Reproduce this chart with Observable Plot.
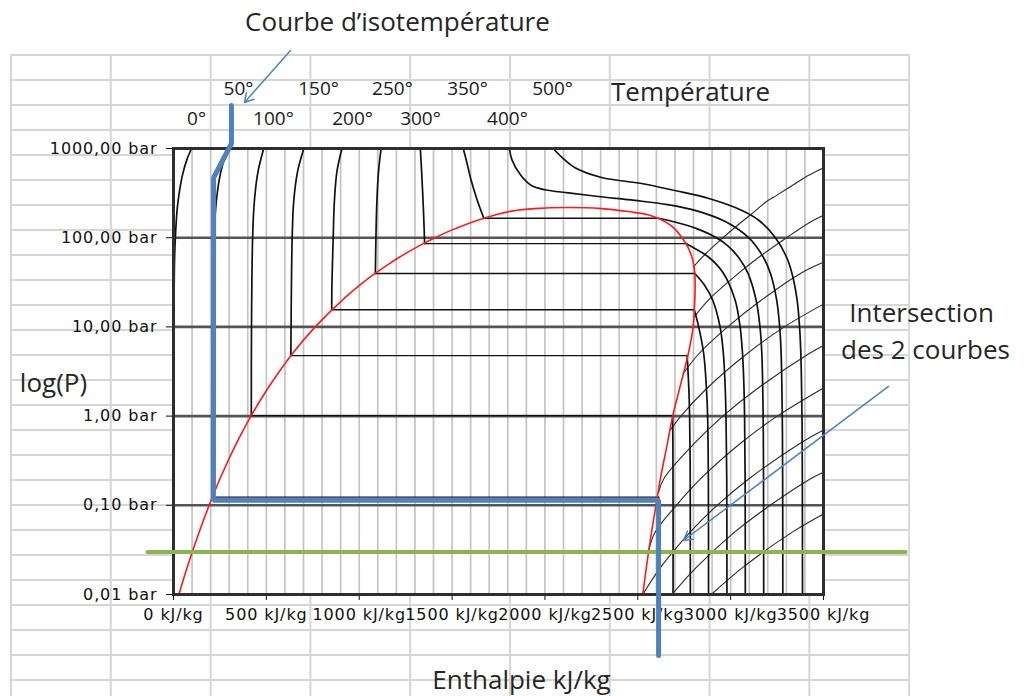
<!DOCTYPE html>
<html><head><meta charset="utf-8">
<script src="https://cdn.jsdelivr.net/npm/d3@7"></script>
<script src="https://cdn.jsdelivr.net/npm/@observablehq/plot@0.6"></script>
<style>
body{margin:0;background:#fff;}
#wrap{position:relative;width:1027px;height:696px;overflow:hidden;background:#fff;}
#sheet{position:absolute;left:10px;top:54px;width:900px;height:642px;
 background-image:linear-gradient(to right,#d6d6d6 0,#d6d6d6 2px,transparent 2px),linear-gradient(to bottom,#d6d6d6 0,#d6d6d6 2px,transparent 2px);
 background-size:99.8px 25px;}
#chart{position:absolute;left:0;top:0;}
</style></head><body>
<div id="wrap"><div id="sheet"></div><div id="chart"></div></div>
<script>
// ---- axes ----
const enthalpyTicks = [0,500,1000,1500,2000,2500,3000,3500];
const enthalpyLabels = ["0 kJ/kg","500 kJ/kg","1000 kJ/kg","1500 kJ/kg","2000 kJ/kg","2500 kJ/kg","3000 kJ/kg","3500 kJ/kg"];
const pressureTicks = [0.01,0.1,1,10,100,1000];
const pressureLabels = ["0,01 bar","0,10 bar","1,00 bar","10,00 bar","100,00 bar","1000,00 bar"];
const enthalpyGrid = [100,200,300,400,500,600,700,800,900,1000,1100,1200,1300,1400,1500,1600,1700,1800,1900,2000,2100,2200,2300,2400,2500,2600,2700,2800,2900,3000,3100,3200,3300,3400];
const pressureGrid = [0.1,1,10,100];

// ---- saturation dome (h kJ/kg, P bar) ----
const domeLiquid = [[29,0.01],[73,0.02],[138,0.05],[192,0.1],[251,0.2],[340,0.5],[417,1],[505,2],[640,5],[763,10],[909,20],[1008,30],[1087,40],[1155,50],[1214,60],[1317,80],[1408,100],[1491,120],[1571,140],[1650,160],[1732,180],[1827,200],[1944,212],[2127,218]];
const domeVapor = [[2305,212],[2460,195],[2560,180],[2625,160],[2672,140],[2708,120],[2738,100],[2768,80],[2792,60],[2801,50],[2807,40],[2809,30],[2807,20],[2798,10],[2772,5],[2724,2],[2688,1],[2660,0.5],[2622,0.2],[2598,0.1],[2574,0.05],[2546,0.02],[2527,0.01]];

// ---- isotherms: liquid branch, vapour branch ----
const iso0Liquid = [[97,1000],[72,750],[48,500],[29,300],[19,200],[10,100],[5,50],[1,10],[0,1],[0,0.01]];
const iso50Liquid = [[293,1000],[255,550],[230,250],[219,100],[212,20],[210,1],[209,0.1235]];
const iso50Vapor = [[2612,0.1235],[2614,0.05],[2615,0.01]];
const iso100Liquid = [[486,1000],[455,550],[435,250],[426,100],[420,10],[419,1.013]];
const iso100Vapor = [[2688,1.013],[2689,0.5],[2690,0.1],[2690,0.01]];
const iso150Liquid = [[702,1000],[668,550],[647,250],[639,100],[633,10],[632,4.76]];
const iso150Vapor = [[2766,4.76],[2775,2],[2779,1],[2782,0.3],[2783,0.01]];
const iso200Liquid = [[907,1000],[880,550],[866,250],[860,100],[853,30],[852,15.55]];
const iso200Vapor = [[2804,15.55],[2828,10],[2855,5],[2870,2],[2876,1],[2880,0.2],[2881,0.01]];
const iso250Liquid = [[1118,1000],[1104,550],[1095,250],[1090,100],[1087,39.7]];
const iso250Vapor = [[2807,39.7],[2856,30],[2903,20],[2943,10],[2961,5],[2971,2],[2975,1],[2979,0.2],[2980,0.01]];
const iso300Liquid = [[1329,1000],[1336,550],[1344,250],[1350,120],[1352,85.9]];
const iso300Vapor = [[2760,85.9],[2786,80],[2884,60],[2961,40],[3024,20],[3051,10],[3064,5],[3072,2],[3075,1],[3078,0.2],[3079,0.01]];
const iso350Liquid = [[1560,1000],[1577,733],[1603,437],[1636,261],[1671,165.2]];
const iso350Vapor = [[2610,165.2],[2700,150],[2810,128],[2923,100],[2988,80],[3043,60],[3093,40],[3137,20],[3158,10],[3168,5],[3175,1],[3177,0.2],[3178,0.01]];
const iso400 = [[1809,1000],[1822,750],[1870,500],[1927,385],[2000,345],[2127,318],[2300,288],[2483,262],[2660,235],[2818,200],[2976,150],[3097,100],[3177,60],[3214,40],[3248,20],[3264,10],[3272,5],[3278,1],[3280,0.2],[3281,0.01]];
const iso450 = [[2045,1000],[2090,800],[2160,612],[2305,473],[2521,405],[2699,338],[2883,275],[3061,202],[3153,156],[3241,100],[3302,60],[3330,40],[3358,20],[3371,10],[3378,5],[3384,1],[3386,0.2],[3387,0.01]];

// ---- isentropes ----
const s60 = [[2800,47],[2846,60],[2959,100],[3059,150],[3133,200],[3188,250],[3250,300],[3345,400],[3420,500],[3500,610]];
const s65 = [[2805,13],[2880,20],[3043,40],[3150,60],[3301,100],[3430,150],[3500,178]];
const s70 = [[2745,3],[2829,5],[2984,10],[3166,20],[3378,40],[3500,53]];
const s75 = [[2676,0.7],[2732,1],[2867,2],[3088,5],[3289,10],[3500,18]];
const s80 = [[2612,0.14],[2641,0.2],[2807,0.5],[2958,1],[3139,2],[3421,5],[3500,6.2]];
const s85 = [[2560,0.032],[2593,0.05],[2708,0.1],[2840,0.2],[3055,0.5],[3251,1],[3500,2.07]];
const s90 = [[2527,0.01],[2622,0.02],[2782,0.05],[2927,0.1],[3101,0.2],[3377,0.5],[3500,0.7]];
const s95 = [[2684,0.01],[2814,0.02],[3021,0.05],[3213,0.1],[3433,0.2],[3500,0.235]];
const s100 = [[2896,0.01],[3064,0.02],[3332,0.05],[3500,0.08]];

// ---- annotations ----
const bluePath = [[312,3030],[312,1137],[216,470],[215,0.1138],[2612,0.1138],[2612,0.00207]];
const greenLine = [[-140,0.03],[3942,0.03]];
const arrows = [{h1:630,p1:12560,h2:382,p2:3281},{h1:3850,p1:2.15,h2:2746,p2:0.0403}];
const tempTopLabels = ["50°","150°","250°","350°","500°"];
const tempTopH = [350,781,1179,1583,2041];
const tempLowLabels = ["0°","100°","200°","300°","400°"];
const tempLowH = [124,538,964,1330,1798];
const tempTopP = 4706, tempLowP = 2169;
const notes = [
  {text:"Courbe d’isotempérature", h:1206, p:25860},
  {text:"Température", h:2784, p:4246},
  {text:"log(P)", h:-646, p:2.32},
  {text:"Enthalpie kJ/kg", h:1874, p:0.001086},
  {text:"Intersection", h:4028, p:14.13},
  {text:"des 2 courbes", h:4049, p:5.44}
];

// ---- build tables ----
const rows = (name, pts) => pts.map(([h,p]) => ({name, h, p}));
const isoParts = [
  ["0L",iso0Liquid],["50L",iso50Liquid],["50V",iso50Vapor],["100L",iso100Liquid],["100V",iso100Vapor],
  ["150L",iso150Liquid],["150V",iso150Vapor],["200L",iso200Liquid],["200V",iso200Vapor],
  ["250L",iso250Liquid],["250V",iso250Vapor],["300L",iso300Liquid],["300V",iso300Vapor],
  ["350L",iso350Liquid],["350V",iso350Vapor],["400",iso400],["450",iso450]
];
const isoRows = isoParts.flatMap(([n,pts]) => rows(n, pts));
const satPairs = [[iso50Liquid,iso50Vapor],[iso100Liquid,iso100Vapor],[iso150Liquid,iso150Vapor],[iso200Liquid,iso200Vapor],[iso250Liquid,iso250Vapor],[iso300Liquid,iso300Vapor],[iso350Liquid,iso350Vapor]];
const satSegments = satPairs.map(([l,v]) => ({p:l[l.length-1][1], h1:l[l.length-1][0], h2:v[0][0]}));
const isenRows = [["6.0",s60],["6.5",s65],["7.0",s70],["7.5",s75],["8.0",s80],["8.5",s85],["9.0",s90],["9.5",s95],["10",s100]].flatMap(([n,pts]) => rows(n, pts));
const domeRows = rows("dome", [...domeLiquid, ...domeVapor]);
const xFmt = new Map(enthalpyTicks.map((d,i) => [d, enthalpyLabels[i]]));
const yFmt = new Map(pressureTicks.map((d,i) => [d, pressureLabels[i]]));
const tempRows = [
  ...tempTopLabels.map((t,i) => ({text:t, h:tempTopH[i], p:tempTopP})),
  ...tempLowLabels.map((t,i) => ({text:t, h:tempLowH[i], p:tempLowP}))
];

const chart = Plot.plot({
  width: 1027, height: 696,
  marginLeft: 173, marginRight: 204, marginTop: 148, marginBottom: 102,
  style: {background: "transparent", fontFamily: "'DejaVu Sans', sans-serif", fontSize: "16px", color: "#111", overflow: "visible"},
  x: {domain: [0, 3500], ticks: enthalpyTicks, tickFormat: d => xFmt.get(d), tickSize: 6, tickPadding: 8, label: null},
  y: {type: "log", domain: [0.01, 1000], ticks: pressureTicks, tickFormat: d => yFmt.get(d), tickSize: 7, tickPadding: 9, label: null},
  marks: [
    Plot.frame({fill: "white", stroke: "none"}),
    Plot.ruleX(enthalpyGrid, {stroke: "#c4c4c4", strokeWidth: 1.7}),
    Plot.ruleY(pressureGrid, {stroke: "#555", strokeWidth: 2.6}),
    Plot.line(isenRows, {x: "h", y: "p", z: "name", curve: "catmull-rom", stroke: "#2a2a2a", strokeWidth: 1.1}),
    Plot.line(isoRows, {x: "h", y: "p", z: "name", curve: "catmull-rom", stroke: "#111", strokeWidth: 1.7}),
    Plot.ruleY(satSegments, {y: "p", x1: "h1", x2: "h2", stroke: "#111", strokeWidth: 1.4}),
    Plot.line(domeRows, {x: "h", y: "p", curve: "catmull-rom", stroke: "#ff1a1a", strokeWidth: 1.6}),
    Plot.frame({stroke: "#2e2e2e", strokeWidth: 3}),
    Plot.line(rows("green", greenLine), {x: "h", y: "p", stroke: "#8eb44f", strokeWidth: 4}),
    Plot.line(rows("blue", bluePath), {x: "h", y: "p", stroke: "#4f81bd", strokeWidth: 5, strokeLinejoin: "miter"}),
    Plot.arrow(arrows, {x1: "h1", y1: "p1", x2: "h2", y2: "p2", stroke: "#4f81bd", strokeWidth: 1.5, headLength: 10}),
    Plot.text(tempRows, {x: "h", y: "p", text: "text", fontSize: 19, fontFamily: "'Open Sans', sans-serif", fill: "#1a1a1a", ariaLabel: "temps"}),
    Plot.text(notes, {x: "h", y: "p", text: "text", fontSize: 26, fontFamily: "'Open Sans', sans-serif", fill: "#262626", ariaLabel: "notes"})
  ]
});
document.getElementById("chart").appendChild(chart);
const svg = d3.select(chart.tagName.toLowerCase() === "svg" ? chart : chart.querySelector("svg"));
svg.selectAll('g[aria-label="notes"] text').style("letter-spacing", "3.2px");
svg.selectAll('g[aria-label="temps"] text').style("letter-spacing", "1.6px");
svg.selectAll('g[aria-label="y-axis tick label"] text, g[aria-label="x-axis tick label"] text').style("letter-spacing", "0.9px");
</script>
</body></html>
